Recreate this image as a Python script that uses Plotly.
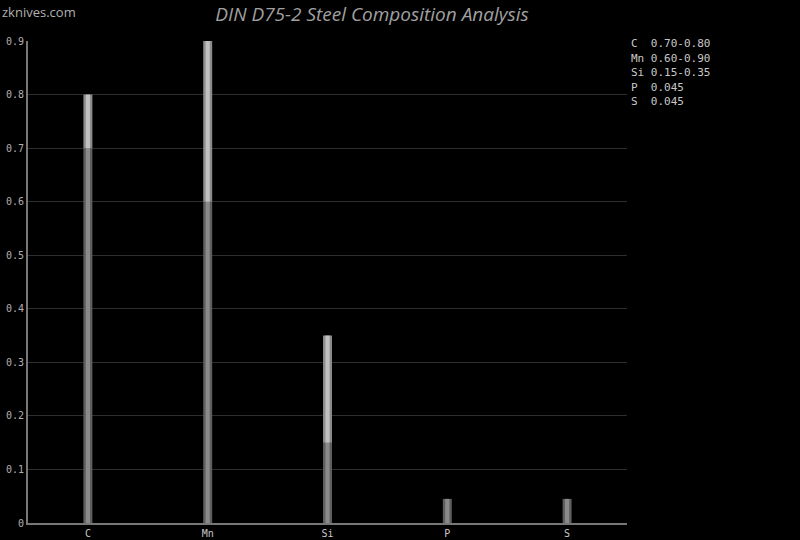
import plotly.graph_objects as go

elements = ["C", "Mn", "Si", "P", "S"]
min_vals = [0.70, 0.60, 0.15, 0.045, 0.045]
max_vals = [0.80, 0.90, 0.35, 0.045, 0.045]
legend_lines = ["C  0.70-0.80", "Mn 0.60-0.90", "Si 0.15-0.35", "P  0.045", "S  0.045"]
y_ticks = [0, 0.1, 0.2, 0.3, 0.4, 0.5, 0.6, 0.7, 0.8, 0.9]
y_tick_text = ["0", "0.1", "0.2", "0.3", "0.4", "0.5", "0.6", "0.7", "0.8", "0.9"]

upper = [mx - mn for mx, mn in zip(max_vals, min_vals)]

fig = go.Figure()
# lower (min) segment: outer + inner for cylinder look
fig.add_bar(x=elements, y=min_vals, base=0, width=0.075, marker=dict(color="#5e5e5e", line=dict(width=0)), hoverinfo="skip")
fig.add_bar(x=elements, y=min_vals, base=0, width=0.035, marker=dict(color="#8a8a8a", line=dict(width=0)), hoverinfo="skip")
# upper (range) segment
fig.add_bar(x=elements, y=upper, base=min_vals, width=0.075, marker=dict(color="#8c8c8c", line=dict(width=0)), hoverinfo="skip")
fig.add_bar(x=elements, y=upper, base=min_vals, width=0.035, marker=dict(color="#c0c0c0", line=dict(width=0)), hoverinfo="skip")

mono = "DejaVu Sans Mono"
for i, line in enumerate(legend_lines):
    fig.add_annotation(xref="paper", yref="paper", x=1.003, y=0.994 - i * 0.0299, xanchor="left", yanchor="middle",
                       text=line, showarrow=False, font=dict(family=mono, size=11, color="#c8c8c8"))

fig.add_annotation(xref="paper", yref="paper", x=-0.046, y=1.060, xanchor="left", yanchor="middle",
                   text="zknives.com", showarrow=False, font=dict(family="Open Sans", size=13, color="#b0b0b0"))

fig.update_layout(
    width=800, height=540,
    paper_bgcolor="#000000", plot_bgcolor="#000000",
    margin=dict(l=28, r=173, t=41, b=17, autoexpand=False),
    barmode="overlay", showlegend=False,
    title=dict(text="DIN D75-2 Steel Composition Analysis", x=0.465, xanchor="center", y=0.974, yanchor="middle",
               font=dict(family="Open Sans", size=19, color="#a0a0a0", style="italic")),
    xaxis=dict(range=[-0.5, 4.5], showgrid=False, showline=True, linecolor="#777777", linewidth=2,
               ticks="", automargin=False, tickfont=dict(family=mono, size=10, color="#c8c8c8")),
    yaxis=dict(range=[0, 0.9], tickvals=y_ticks, ticktext=y_tick_text, showgrid=True, gridcolor="#2e2e2e",
               gridwidth=1, showline=True, linecolor="#777777", linewidth=2, zeroline=False, ticks="",
               automargin=False, tickfont=dict(family=mono, size=10, color="#b0b0b0")),
)

fig.write_html("out.html", config={"displayModeBar": False},
               post_script="document.body.style.margin='0';document.body.style.background='#000';")
